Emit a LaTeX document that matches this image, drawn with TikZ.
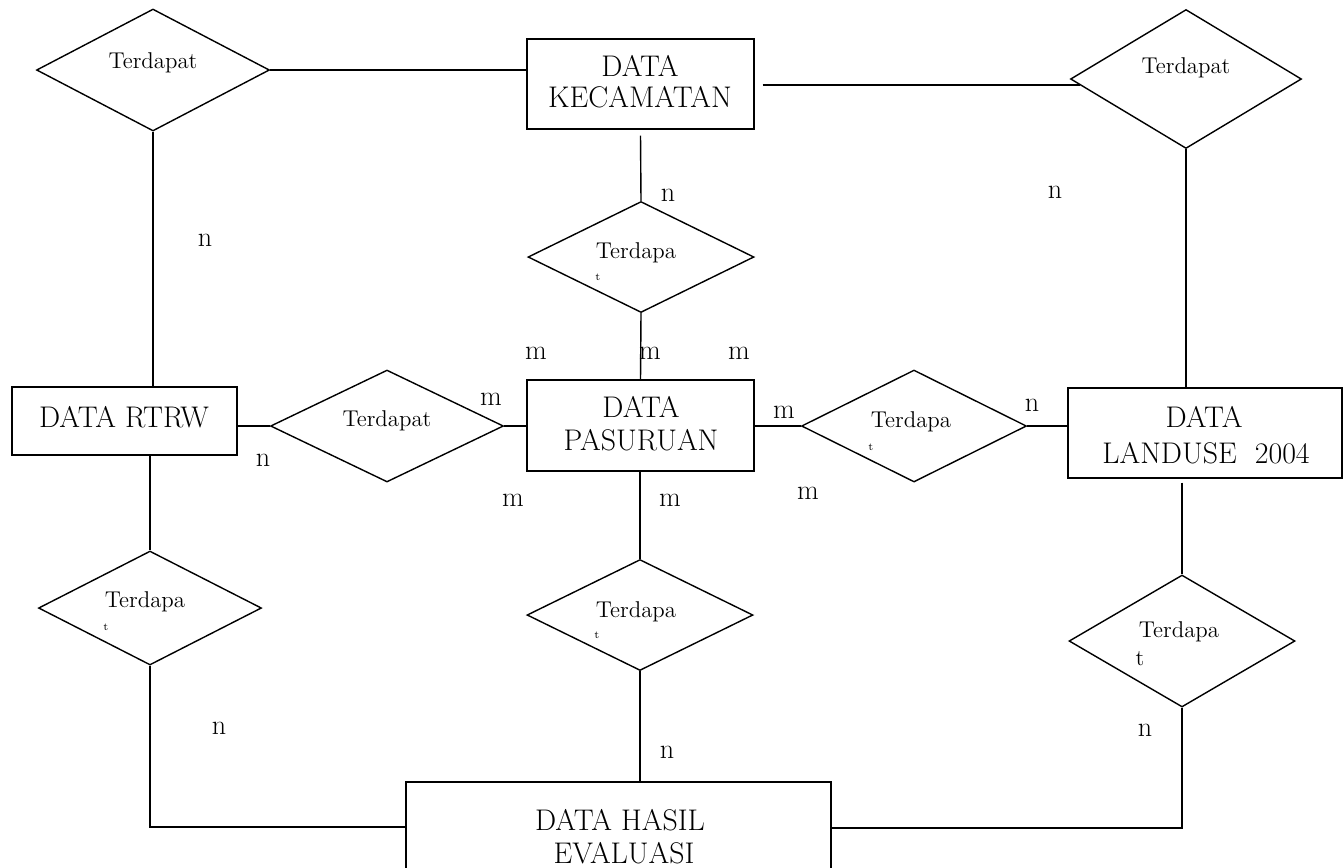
\documentclass[tikz,border=0pt]{standalone}
\usepackage{fontspec}
\usetikzlibrary{shapes.geometric,calc}
\begin{document}
\begin{tikzpicture}[x=0.02cm,y=-0.02cm,
  ent/.style={draw,line width=0.8pt,rectangle,inner sep=0pt},
  rel/.style={draw,line width=0.8pt,diamond,inner sep=0pt},
  link/.style={line width=0.8pt},
  etext/.style={font=\fontsize{17}{20}\selectfont, anchor=base, inner sep=0pt},
  rtext/.style={font=\fontsize{13}{15}\selectfont, anchor=base, inner sep=0pt},
  tmark/.style={font=\fontsize{6}{7}\selectfont, inner sep=0pt},
  card/.style={font=\fontsize{16}{19}\selectfont, inner sep=0pt}]
\useasboundingbox (0,0) rectangle (1344,867);
% relationship diamonds
\node[rel, minimum width=4.66cm, minimum height=2.44cm] (D1) at (153,70) {};
\node[rel, minimum width=4.62cm, minimum height=2.78cm] (D2) at (1186,79) {};
\node[rel, minimum width=4.52cm, minimum height=2.22cm] (D3) at (641,257) {};
\node[rel, minimum width=4.66cm, minimum height=2.24cm] (D4) at (387,426) {};
\node[rel, minimum width=4.50cm, minimum height=2.24cm] (D5) at (914,426) {};
\node[rel, minimum width=4.46cm, minimum height=2.28cm] (D6) at (150,608) {};
\node[rel, minimum width=4.52cm, minimum height=2.22cm] (D7) at (640,615) {};
\node[rel, minimum width=4.52cm, minimum height=2.64cm] (D8) at (1182,641) {};
% entity boxes
\node[ent, minimum width=4.54cm, minimum height=1.80cm] (Kec) at (640.5,84) {};
\node[ent, minimum width=4.54cm, minimum height=1.82cm] (Pas) at (640.5,425.5) {};
\node[ent, minimum width=4.50cm, minimum height=1.36cm] (RTRW) at (124.5,421) {};
\node[ent, minimum width=5.48cm, minimum height=1.80cm] (Land) at (1205,433) {};
\node[ent, minimum width=8.50cm, minimum height=2.16cm] (Hasil) at (618.5,836) {};
% entity texts
\node[etext] (KecA) at (640,76) {DATA};
\node[etext] (KecB) at (640,107) {KECAMATAN};
\node[etext] (PasA) at (641,417) {DATA};
\node[etext] (PasB) at (641,450) {PASURUAN};
\node[etext] (RTRWt) at (124,427) {DATA RTRW};
\node[etext] (LandA) at (1204,427) {DATA};
\node[etext] (LandB) at (1206,463) {LANDUSE\ \ 2004};
\node[etext] (HasA) at (620,830) {DATA HASIL};
\node[etext] (HasB) at (624,863) {EVALUASI};
% relationship texts
\node[rtext] (D1t) at (153,68) {Terdapat};
\node[rtext] (D2t) at (1186,73) {Terdapat};
\node[rtext] (D3t) at (636,258) {Terdapa};
\node[tmark] (D3m) at (598,277) {t};
\node[rtext] (D4t) at (387,426) {Terdapat};
\node[rtext] (D5t) at (911,427) {Terdapa};
\node[tmark] (D5m) at (871,447) {t};
\node[rtext] (D6t) at (145,607) {Terdapa};
\node[tmark] (D6m) at (106,627) {t};
\node[rtext] (D7t) at (636,617) {Terdapa};
\node[tmark] (D7m) at (597,635) {t};
\node[rtext] (D8t) at (1179,637) {Terdapa};
\node[rtext] (D8m) at (1140,665) {t};
% connectors
\draw[link] (D1.east) -- (D1.east -| Kec.west);
\draw[link] ($(Kec.east)+(8,1)$) -- ($(D2.west)+(10,6)$);
\draw[link] (D1.south) -- (D1.south |- RTRW.north);
\draw[link] ($(Kec.south)+(0,6)$) -- (D3.north);
\draw[link] (D3.south) -- (Pas.north);
\draw[link] (D4.west -| RTRW.east) -- (D4.west);
\draw[link] (D4.east) -- (D4.east -| Pas.west);
\draw[link] (D5.west -| Pas.east) -- (D5.west);
\draw[link] (D5.east) -- (D5.east -| Land.west);
\draw[link] (D2.south) -- (D2.south |- Land.north);
\draw[link] ($(D8.north |- Land.south)+(0,4)$) -- (D8.north);
\draw[link] (D6.north |- RTRW.south) -- (D6.north);
\draw[link] (D7.north |- Pas.south) -- (D7.north);
\draw[link] (D6.south) |- ($(Hasil.west)+(0,-9)$);
\draw[link] (D7.south) -- (D7.south |- Hasil.north);
\draw[link] (D8.south) |- ($(Hasil.east)+(0,-8)$);
% cardinalities
\node[card] (c1) at (205,240) {n};
\node[card] (c2) at (668,195) {n};
\node[card] (c3) at (1055,192) {n};
\node[card] (c4) at (536,353) {m};
\node[card] (c5) at (650,353) {m};
\node[card] (c6) at (739,353) {m};
\node[card] (c7) at (491,399) {m};
\node[card] (c8) at (263,460) {n};
\node[card] (c9) at (784,412) {m};
\node[card] (c10) at (1032,405) {n};
\node[card] (c11) at (513,500) {m};
\node[card] (c12) at (670,500) {m};
\node[card] (c13) at (808,493) {m};
\node[card] (c14) at (219,728) {n};
\node[card] (c15) at (667,752) {n};
\node[card] (c16) at (1145,730) {n};
\end{tikzpicture}
\end{document}
